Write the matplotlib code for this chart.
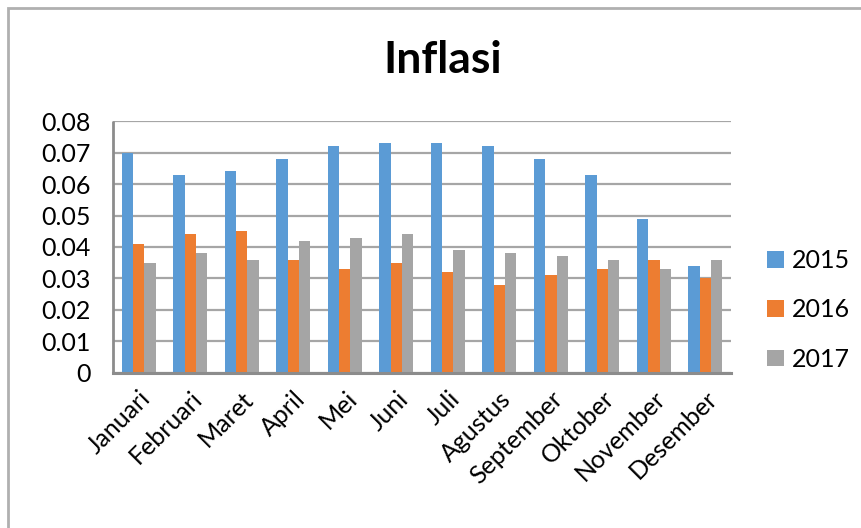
import matplotlib.pyplot as plt
import numpy as np
from matplotlib.patches import Rectangle

plt.rcParams['font.family'] = ['Lato', 'DejaVu Sans']

bulan = ['Januari', 'Februari', 'Maret', 'April', 'Mei', 'Juni', 'Juli',
         'Agustus', 'September', 'Oktober', 'November', 'Desember']
inflasi_2015 = [0.070, 0.063, 0.064, 0.068, 0.072, 0.073, 0.073, 0.072, 0.068, 0.063, 0.049, 0.034]
inflasi_2016 = [0.041, 0.044, 0.045, 0.036, 0.033, 0.035, 0.032, 0.028, 0.031, 0.033, 0.036, 0.030]
inflasi_2017 = [0.035, 0.038, 0.036, 0.042, 0.043, 0.044, 0.039, 0.038, 0.037, 0.036, 0.033, 0.036]
tahun = ['2015', '2016', '2017']

warna = ['#5B9BD5', '#ED7D31', '#A5A5A5']

fig = plt.figure(figsize=(8.61, 5.28), dpi=100)
ax = fig.add_axes([0.1312, 0.2936, 0.718, 0.4772])

x = np.arange(len(bulan))
w = 0.22
for i, (data, lbl) in enumerate(zip([inflasi_2015, inflasi_2016, inflasi_2017], tahun)):
    ax.bar(x + (i - 1) * w, data, width=w, color=warna[i], label=lbl,
           edgecolor='none', zorder=3)

ax.set_xlim(-0.5, len(bulan) - 0.5)
ax.set_ylim(0, 0.08)
ax.set_yticks(np.arange(0, 0.081, 0.01))
ax.set_yticklabels(['0'] + ['%.2f' % v for v in np.arange(0.01, 0.081, 0.01)])
ax.yaxis.grid(True, color='#a6a6a6', linewidth=1.6, zorder=0)
ax.tick_params(axis='y', length=0, labelsize=18, pad=16)
ax.tick_params(axis='x', length=0, labelsize=18, pad=10)
ax.set_xticks(x)
ax.set_xticklabels(bulan, rotation=45, ha='right', rotation_mode='anchor')

for s in ['top', 'right']:
    ax.spines[s].set_visible(False)
ax.spines['left'].set_color('#8c8c8c')
ax.spines['left'].set_linewidth(2)
ax.spines['left'].set_capstyle('butt')
ax.spines['bottom'].set_color('#8c8c8c')
ax.spines['bottom'].set_linewidth(2.2)
ax.spines['bottom'].set_zorder(4)

fig.text(0.514, 0.886, 'Inflasi', ha='center', va='center', fontsize=32, fontweight='bold')

ax.legend(loc='center left', bbox_to_anchor=(1.022, 0.25), frameon=False, fontsize=18,
          handlelength=0.65, handleheight=0.65, labelspacing=1.05, handletextpad=0.35)

# outer chart border
fig.add_artist(Rectangle((8 / 861, -0.1), 1.2, 1.1 - 8 / 528, transform=fig.transFigure,
                         fill=False, edgecolor='#b0b0b0', linewidth=2))

fig.savefig('out.png', dpi=100, facecolor='white')
